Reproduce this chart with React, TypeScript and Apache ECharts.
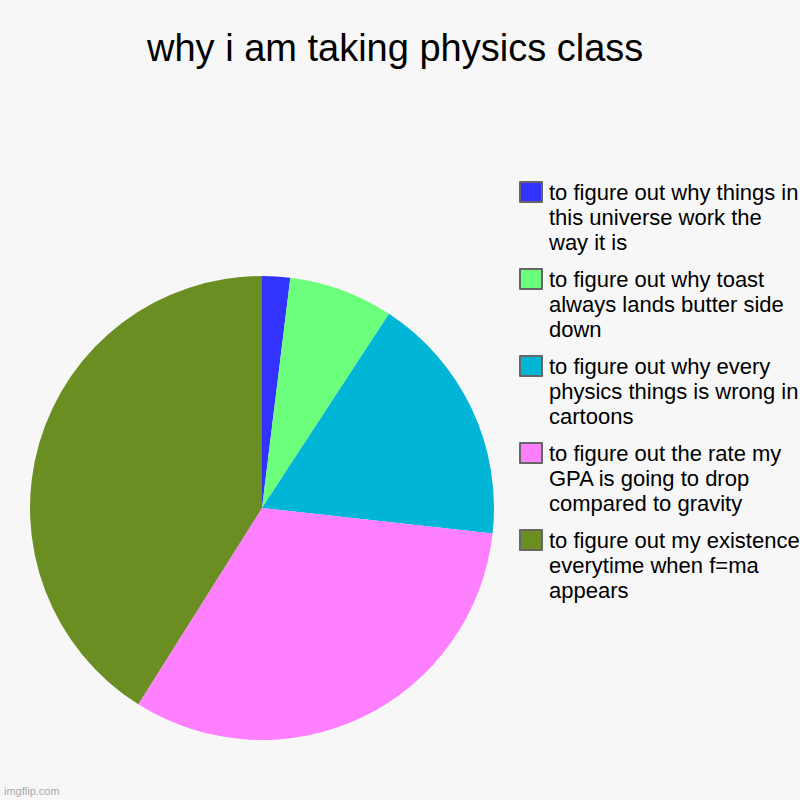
import React, { useEffect, useRef } from "react";
import * as echarts from "echarts";

const titleText = "why i am taking physics class";

const categories = [
  "to figure out why things in this universe work the way it is",
  "to figure out why toast always lands butter side down",
  "to figure out why every physics things is wrong in cartoons",
  "to figure out the rate my GPA is going to drop compared to gravity",
  "to figure out my existence everytime when f=ma appears",
];

// legend text broken into lines as in the picture
const legendLabels = [
  "to figure out why things in\nthis universe work the\nway it is",
  "to figure out why toast\nalways lands butter side\ndown",
  "to figure out why every\nphysics things is wrong in\ncartoons",
  "to figure out the rate my\nGPA is going to drop\ncompared to gravity",
  "to figure out my existence\neverytime when f=ma\nappears",
];

const values = [1.95, 7.27, 17.54, 32.19, 41.05];

const colors = ["#3333ff", "#6bff7b", "#00b5d6", "#ff80ff", "#6b8e23"];

const font = "'Liberation Sans', Arial, Helvetica, sans-serif";

const App: React.FC = () => {
  const chartRef = useRef<HTMLDivElement | null>(null);

  useEffect(() => {
    if (!chartRef.current) return;
    const myChart = echarts.init(chartRef.current, undefined, { renderer: "svg" });

    const option = {
      animation: false,
      backgroundColor: "#f7f7f7",
      title: {
        text: titleText,
        left: 142,
        top: 24,
        textStyle: {
          fontSize: 38,
          fontWeight: "normal",
          color: "#000",
          fontFamily: font,
        },
      },
      legend: {
        orient: "vertical",
        left: 519,
        top: 129.5,
        padding: 0,
        itemWidth: 22,
        itemHeight: 20,
        itemGap: -38,
        icon: "rect",
        selectedMode: false,
        itemStyle: { borderColor: "#666", borderWidth: 2 },
        textStyle: {
          fontSize: 22,
          lineHeight: 25,
          color: "#000",
          fontFamily: font,
          padding: [0, 0, 0, 2],
        },
        // two blank lines on top so the first text line sits beside the box
        formatter: (name: string) => "\n\n" + legendLabels[categories.indexOf(name)],
        data: categories,
      },
      graphic: [
        {
          type: "text",
          left: 4,
          top: 785,
          style: {
            text: "imgflip.com",
            fontSize: 11,
            fill: "#a8a8a8",
            fontFamily: font,
          },
        },
      ],
      series: [
        {
          type: "pie",
          center: [262, 508],
          radius: 232,
          startAngle: 90,
          clockwise: true,
          label: { show: false },
          labelLine: { show: false },
          itemStyle: { borderWidth: 0 },
          emphasis: { disabled: true },
          data: categories.map((name, i) => ({
            name,
            value: values[i],
            itemStyle: { color: colors[i] },
          })),
        },
      ],
    };

    myChart.setOption(option);

    return () => {
      myChart.dispose();
    };
  }, []);

  return (
    <div
      ref={chartRef}
      style={{ position: "fixed", left: 0, top: 0, width: "800px", height: "800px" }}
    />
  );
};

export default App;
